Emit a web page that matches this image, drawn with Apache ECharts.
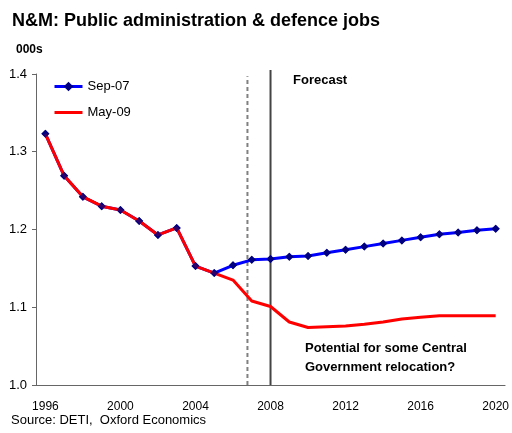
<!DOCTYPE html>
<html>
<head>
<meta charset="utf-8">
<script src="https://cdn.jsdelivr.net/npm/echarts@6/dist/echarts.min.js"></script>
<style>
  html, body { margin: 0; padding: 0; background: #fff; }
  #chart { width: 512px; height: 433px; }
</style>
</head>
<body>
<div id="chart"></div>
<script>
// Northern Ireland (N&M) public administration & defence jobs, 000s
const years = ['1996','1997','1998','1999','2000','2001','2002','2003','2004','2005','2006','2007','2008',
               '2009','2010','2011','2012','2013','2014','2015','2016','2017','2018','2019','2020'];
const sep07 = [1.323, 1.269, 1.242, 1.230, 1.225, 1.211, 1.193, 1.202, 1.153, 1.144, 1.154, 1.161, 1.162,
               1.165, 1.166, 1.170, 1.174, 1.178, 1.182, 1.186, 1.190, 1.194, 1.196, 1.199, 1.201];
const may09 = [1.323, 1.269, 1.242, 1.230, 1.225, 1.211, 1.193, 1.202, 1.153, 1.144, 1.135, 1.108, 1.101,
               1.081, 1.074, 1.075, 1.076, 1.078, 1.081, 1.085, 1.087, 1.089, 1.089, 1.089, 1.089];
const yTicks = [1.0, 1.1, 1.2, 1.3, 1.4];
// vertical reference lines (year position): forecast vintage and forecast start
const vintageLineYear = 2006.77;
const forecastLineYear = 2008;

const FONT = 'Liberation Sans, Arial, sans-serif';
const chart = echarts.init(document.getElementById('chart'), null, { renderer: 'canvas' });

chart.setOption({
  animation: false,
  backgroundColor: '#ffffff',
  textStyle: { fontFamily: FONT },
  title: {
    text: 'N&M: Public administration & defence jobs',
    left: 7, top: 7,
    textStyle: { fontFamily: FONT, fontSize: 18, fontWeight: 'bold', color: '#000' }
  },
  legend: {
    data: [
      { name: 'Sep-07', lineStyle: { width: 3 } },
      { name: 'May-09', lineStyle: { width: 3 }, itemStyle: { opacity: 0 } }
    ],
    orient: 'vertical',
    left: 53, top: 80, padding: 0,
    itemWidth: 28, itemHeight: 12, itemGap: 13,
    textStyle: { fontFamily: FONT, fontSize: 13, color: '#000' }
  },
  grid: { left: 36, right: 6, top: 74, bottom: 48, containLabel: false },
  xAxis: [{
    type: 'category',
    data: years,
    boundaryGap: true,
    axisLine: { lineStyle: { color: '#666', width: 1 } },
    axisTick: { interval: 1, length: 4, lineStyle: { color: '#666' } },
    axisLabel: { interval: 3, fontSize: 12, color: '#000', margin: 16, fontFamily: FONT },
    splitLine: { show: false }
  }, {
    type: 'value',
    min: 1995.5, max: 2020.5,
    show: false
  }],
  yAxis: {
    type: 'value',
    min: yTicks[0], max: yTicks[yTicks.length - 1], interval: 0.1,
    axisLine: { show: true, lineStyle: { color: '#666', width: 1 } },
    axisTick: { show: true, length: 4, lineStyle: { color: '#666' } },
    axisLabel: { fontSize: 13, color: '#000', margin: 9, fontFamily: FONT,
                 formatter: v => v.toFixed(1) },
    splitLine: { show: false }
  },
  series: [
    {
      name: 'vintage', type: 'line', xAxisIndex: 1,
      data: [[vintageLineYear, 1.0], [vintageLineYear, 1.397]],
      symbol: 'none', silent: true, clip: false, z: 1,
      lineStyle: { color: '#808080', width: 2, type: [4, 3] }
    },
    {
      name: 'forecast', type: 'line', xAxisIndex: 1,
      data: [[forecastLineYear, 1.0], [forecastLineYear, 1.405]],
      symbol: 'none', silent: true, clip: false, z: 1,
      lineStyle: { color: '#444', width: 2 }
    },
    {
      name: 'Sep-07', type: 'line', data: sep07,
      symbol: 'diamond', symbolSize: 8, showSymbol: true,
      itemStyle: { color: '#000080' },
      lineStyle: { color: '#0000ff', width: 3 },
      z: 2
    },
    {
      name: 'May-09', type: 'line', data: may09,
      symbol: 'none',
      itemStyle: { color: '#ff0000' },
      lineStyle: { color: '#ff0000', width: 3 },
      z: 3
    },
    {
      // Sep-07 markers drawn above both lines
      name: 'Sep-07 markers', type: 'scatter', data: sep07,
      symbol: 'diamond', symbolSize: 8,
      itemStyle: { color: '#000080' },
      silent: true, z: 4
    }
  ],
  graphic: [
    { type: 'text', left: 16, top: 44,
      style: { text: '000s', font: 'bold 12px ' + FONT, fill: '#000' } },
    { type: 'text', left: 293, top: 74,
      style: { text: 'Forecast', font: 'bold 13px ' + FONT, fill: '#000' } },
    { type: 'text', left: 305, top: 339,
      style: { text: 'Potential for some Central\nGovernment relocation?', font: 'bold 13px ' + FONT,
               lineHeight: 19, fill: '#000' } },
    { type: 'text', left: 11, top: 414,
      style: { text: 'Source: DETI,  Oxford Economics', font: '13px ' + FONT, fill: '#000' } }
  ]
});
</script>
</body>
</html>
